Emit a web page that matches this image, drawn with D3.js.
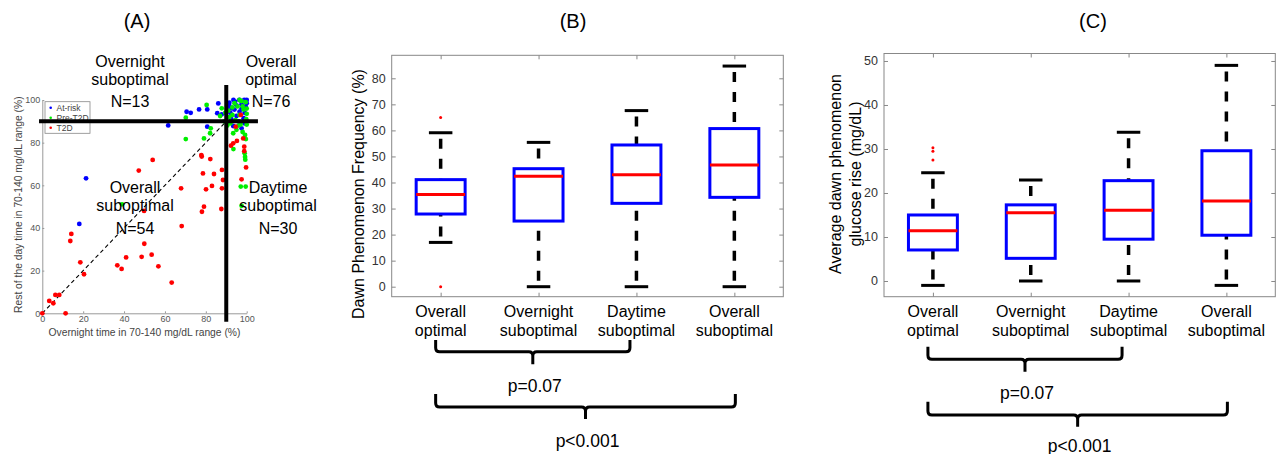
<!DOCTYPE html>
<html>
<head>
<meta charset="utf-8">
<script src="https://cdnjs.cloudflare.com/ajax/libs/d3/7.8.5/d3.min.js"></script>
<style>
  body { margin: 0; background: #fff; }
  svg text { font-family: "Liberation Sans", Arial, Helvetica, sans-serif; }
</style>
</head>
<body>
<svg id="fig" width="1284" height="454"></svg>
<script>
// ---- data ----

// panel A: overnight vs rest-of-day time in range (%)
const atRisk = [
  [18.1, 41.9], [21.4, 63.3], [61.6, 88.1], [70.6, 94.5], [72.6, 94], [76.7, 95.6],
  [80.7, 95.6], [86.1, 98.4], [80.7, 87.5], [85.6, 93.8], [87.8, 93.3], [91.5, 97.2],
  [91.5, 98.7], [94.3, 99.2], [96.4, 100], [98.8, 100], [100, 100], [92.6, 96.1],
  [95, 97.5], [97.5, 98], [99.5, 97], [92, 94], [96.5, 94.5], [99, 94], [93.4, 87.8],
  [97.5, 86.7], [92.5, 91], [95, 92.5], [98.5, 91.5], [90.5, 95.5], [93.5, 100],
  [97.5, 96], [100, 98.5], [94, 95.5], [96, 90], [99, 89]
];
const preT2D = [
  [39, 51.1], [70.2, 91.7], [80.4, 97.7], [70.2, 81.7], [79.1, 82], [82.4, 86.7],
  [82.1, 84.4], [87.8, 96.1], [87, 92.5], [89, 90], [93.4, 84.4], [93.5, 77], [96, 88],
  [99.2, 83.6], [99.6, 81.7], [99, 75], [99.2, 73.3], [99.3, 72], [97.1, 59.4],
  [99.5, 59.4], [97.5, 50.4], [91, 95], [93, 96.5], [95.5, 97], [97.5, 99.5], [99.5, 99],
  [100, 96], [96.5, 93], [98.5, 95.5], [91.5, 92], [94.5, 90.5], [97, 88.5], [99.8, 91],
  [92, 89], [95, 86], [98, 85], [100, 93.5], [89.5, 94], [93, 93], [96.5, 100], [98, 97],
  [90.5, 88], [94, 98.5], [100, 88.5]
];
const t2d = [
  [0, 0], [3.4, 5.8], [5.4, 4.7], [6.4, 8.6], [8.3, 8.6], [11.4, 0], [14.2, 37.2],
  [13.7, 33.9], [18.6, 23.9], [20.4, 18.3], [36.7, 22.5], [38.8, 20.8], [41, 26.2],
  [48.6, 26.5], [53.5, 27.5], [49.9, 32.6], [49.8, 48], [56.8, 22], [63.3, 14.4],
  [68.2, 40.9], [67.9, 58.6], [47.2, 66.9], [54, 71.9], [78.1, 47.6], [79.1, 50],
  [80.1, 58.1], [83, 59.7], [78.6, 65.6], [84, 65.3], [87.9, 67.2], [87.9, 58.6],
  [88.4, 62.5], [87.6, 48.9], [77.8, 74.2], [78, 73.5], [82.2, 72.3], [92.3, 78.6],
  [93.4, 79.7], [95.2, 80.8], [98.3, 82], [98.8, 78.1], [98.8, 76], [99.7, 68.4],
  [97.5, 62.8], [97.1, 93], [94.6, 87.5]
];
const scatterTicks = [0, 20, 40, 60, 80, 100];
const cutoff = 90;
const legendNames = ["At-risk", "Pre-T2D", "T2D"];
const quadrants = [
  { lines: ["Overnight", "suboptimal", "N=13"] },
  { lines: ["Overall", "optimal", "N=76"] },
  { lines: ["Overall", "suboptimal", "N=54"] },
  { lines: ["Daytime", "suboptimal", "N=30"] }
];

// panels B and C: group box plots
const groupLines = [["Overall", "optimal"], ["Overnight", "suboptimal"], ["Daytime", "suboptimal"], ["Overall", "suboptimal"]];

const freqLow = [17, 0, 0, 0];
const freqQ1 = [27.9, 25.2, 32, 34.3];
const freqMedian = [35.4, 42.4, 43, 46.7];
const freqQ3 = [41.1, 45.3, 54.4, 60.7];
const freqHigh = [59.1, 55.4, 67.6, 84.7];
const freqOutliers = [[65, 0], [], [], []];
const freqTicks = [0, 10, 20, 30, 40, 50, 60, 70, 80];

const riseLow = [-1, 0, 0, -1];
const riseQ1 = [7.05, 5.15, 9.5, 10.4];
const riseMedian = [11.4, 15.5, 16.1, 18.2];
const riseQ3 = [15, 17.3, 22.8, 29.6];
const riseHigh = [24.6, 22.95, 33.8, 49];
const riseOutliers = [[30.3, 29.5, 27.5], [], [], []];
const riseTicks = [0, 10, 20, 30, 40, 50];

const pLabels = ["p=0.07", "p<0.001"];
const bracketGroups = [[0, 2], [0, 3]];

// ---- drawing ----
const svg = d3.select("#fig");
svg.append("rect").attr("width", 1284).attr("height", 454).attr("fill", "#fff");

const title = (x, t) => svg.append("text")
  .attr("x", x).attr("y", 28).attr("text-anchor", "middle")
  .attr("font-size", 20).attr("fill", "#000").text(t);

const drawScatter = () => {
  const x = d3.scaleLinear().domain([0, 100]).range([42.3, 246.7]);
  const y = d3.scaleLinear().domain([0, 100]).range([313.3, 100]);
  const g = svg.append("g");

  const xa = g.append("g").attr("transform", `translate(0,${y(0)})`)
    .call(d3.axisBottom(x).tickValues(scatterTicks).tickSize(-2).tickSizeOuter(0).tickPadding(2));
  const ya = g.append("g").attr("transform", `translate(${x(0)},0)`)
    .call(d3.axisLeft(y).tickValues(scatterTicks).tickSize(-2).tickSizeOuter(0).tickPadding(2));
  [xa, ya].forEach(a => {
    a.select(".domain").attr("stroke", "#999");
    a.selectAll(".tick line").attr("stroke", "#999");
    a.selectAll("text").attr("font-size", 9).attr("fill", "#555").attr("font-family", "Liberation Sans, Arial, sans-serif");
  });

  // diagonal reference line
  g.append("line")
    .attr("x1", x(0)).attr("y1", y(0)).attr("x2", x(cutoff)).attr("y2", y(cutoff))
    .attr("stroke", "#000").attr("stroke-width", 1.1).attr("stroke-dasharray", "4,3");

  const series = [
    { data: atRisk, color: "#0000ff" },
    { data: preT2D, color: "#00ee00" },
    { data: t2d, color: "#ff0000" }
  ];
  series.forEach(s => {
    g.append("g").selectAll("circle")
      .data(s.data).enter().append("circle")
      .attr("cx", d => x(d[0])).attr("cy", d => y(d[1]))
      .attr("r", 2.4).attr("fill", s.color);
  });

  // legend
  const lg = g.append("g").attr("transform", "translate(45,101.7)");
  lg.append("rect").attr("width", 45).attr("height", 31.6)
    .attr("fill", "#fff").attr("stroke", "#888").attr("stroke-width", 0.8);
  legendNames.forEach((n, i) => {
    lg.append("circle").attr("cx", 5.7).attr("cy", 6 + i * 10).attr("r", 1.3).attr("fill", series[i].color);
    lg.append("text").attr("x", 11.5).attr("y", 9 + i * 10)
      .attr("font-size", 8.5).attr("fill", "#444").text(n);
  });

  // cutoff lines
  g.append("line").attr("x1", x(cutoff)).attr("x2", x(cutoff)).attr("y1", y(107)).attr("y2", y(-4))
    .attr("stroke", "#000").attr("stroke-width", 4);
  g.append("line").attr("x1", x(-1.6)).attr("x2", x(105.5)).attr("y1", y(cutoff)).attr("y2", y(cutoff))
    .attr("stroke", "#000").attr("stroke-width", 4);

  // quadrant labels
  const spots = [[130, [66.5, 84.5, 107.3]], [271, [66.5, 84.5, 107.3]],
                 [135, [193.3, 210.5, 234]], [278, [192.5, 210.5, 234]]];
  quadrants.forEach((q, i) => {
    q.lines.forEach((t, j) => {
      g.append("text").attr("x", spots[i][0]).attr("y", spots[i][1][j])
        .attr("text-anchor", "middle").attr("font-size", 16).attr("fill", "#000").text(t);
    });
  });

  g.append("text").attr("x", (x(0) + x(100)) / 2).attr("y", 336)
    .attr("text-anchor", "middle").attr("font-size", 10.3).attr("fill", "#444")
    .text("Overnight time in 70-140 mg/dL range (%)");
  g.append("text").attr("transform", `translate(21.5,${(y(0) + y(100)) / 2 - 2}) rotate(-90)`)
    .attr("text-anchor", "middle").attr("font-size", 10.3).attr("fill", "#444")
    .text("Rest of the day time in 70-140 mg/dL range (%)");
};

const drawBoxPanel = (p) => {
  const n = groupLines.length;
  const x = d3.scalePoint().domain(d3.range(n)).range([p.left, p.right]).padding(0.5);
  const y = d3.scaleLinear().domain(p.yDomain).range([p.bottom, p.top]);
  const step = x.step();
  const g = svg.append("g");

  const axes = [
    g.append("g").attr("transform", `translate(${p.left},0)`)
      .call(d3.axisLeft(y).tickValues(p.ticks).tickSize(-4).tickSizeOuter(0).tickPadding(6)),
    g.append("g").attr("transform", `translate(${p.right},0)`)
      .call(d3.axisRight(y).tickValues(p.ticks).tickSize(-4).tickSizeOuter(0).tickFormat("")),
    g.append("g").attr("transform", `translate(0,${p.top})`)
      .call(d3.axisTop(x).tickSize(-4).tickSizeOuter(0).tickFormat("")),
    g.append("g").attr("transform", `translate(0,${p.bottom})`)
      .call(d3.axisBottom(x).tickSize(-4).tickSizeOuter(0).tickFormat(""))
  ];
  axes.forEach(a => {
    a.select(".domain").remove();
    a.selectAll(".tick line").attr("stroke", "#888");
    a.selectAll("text").attr("font-size", 12.5).attr("fill", "#333").attr("font-family", "Liberation Sans, Arial, sans-serif");
  });
  g.append("rect").attr("x", p.left).attr("y", p.top)
    .attr("width", p.right - p.left).attr("height", p.bottom - p.top)
    .attr("fill", "none").attr("stroke", "#888").attr("stroke-width", 1);

  const idx = d3.range(n);
  const dash = { "stroke": "#000", "stroke-width": 3.5, "stroke-dasharray": "10,10", "stroke-dashoffset": 14 };
  const whisker = (from, to) => g.append("g").selectAll("line").data(idx).enter().append("line")
    .attr("x1", i => x(i)).attr("x2", i => x(i))
    .attr("y1", i => y(from[i])).attr("y2", i => y(to[i]))
    .attr("stroke", dash.stroke).attr("stroke-width", dash["stroke-width"])
    .attr("stroke-dasharray", dash["stroke-dasharray"]).attr("stroke-dashoffset", dash["stroke-dashoffset"]);
  whisker(p.high, p.q3);
  whisker(p.low, p.q1);

  const cap = (vals) => g.append("g").selectAll("line").data(idx).enter().append("line")
    .attr("x1", i => x(i) - 0.12 * step).attr("x2", i => x(i) + 0.12 * step)
    .attr("y1", i => y(vals[i])).attr("y2", i => y(vals[i]))
    .attr("stroke", "#000").attr("stroke-width", 3);
  cap(p.high);
  cap(p.low);

  g.append("g").selectAll("rect").data(idx).enter().append("rect")
    .attr("x", i => x(i) - 0.25 * step).attr("width", 0.5 * step)
    .attr("y", i => y(p.q3[i])).attr("height", i => y(p.q1[i]) - y(p.q3[i]))
    .attr("fill", "none").attr("stroke", "#0000ff").attr("stroke-width", 3);

  g.append("g").selectAll("line").data(idx).enter().append("line")
    .attr("x1", i => x(i) - 0.25 * step).attr("x2", i => x(i) + 0.25 * step)
    .attr("y1", i => y(p.median[i])).attr("y2", i => y(p.median[i]))
    .attr("stroke", "#ff0000").attr("stroke-width", 3);

  p.outliers.forEach((vals, i) => {
    g.append("g").selectAll("circle").data(vals).enter().append("circle")
      .attr("cx", x(i)).attr("cy", d => y(d)).attr("r", 1.5).attr("fill", "#ff0000");
  });

  // category labels
  groupLines.forEach((lines, i) => {
    lines.forEach((t, j) => {
      g.append("text").attr("x", x(i)).attr("y", 317 + j * 18.5)
        .attr("text-anchor", "middle").attr("font-size", 16).attr("fill", "#000").text(t);
    });
  });

  // y label
  const yl = g.append("text")
    .attr("transform", `translate(${p.yLabelX},${p.yLabelY}) rotate(-90)`)
    .attr("text-anchor", "middle").attr("font-size", 16).attr("fill", "#000");
  p.yLabel.forEach((t, j) => {
    yl.append("tspan").attr("x", 0).attr("dy", j === 0 ? 0 : 20).text(t);
  });

  // significance brackets
  bracketGroups.forEach((bg, k) => {
    const lv = p.brackets[k];
    const x1 = x(bg[0]) - 5;
    const x2 = x(bg[1]) + (bg[1] === n - 1 ? 1 : -6.5);
    const cx = (x1 + x2) / 2;
    const r = 4;
    const path = d3.path();
    path.moveTo(x1, lv.top);
    path.lineTo(x1, lv.mid - r);
    path.quadraticCurveTo(x1, lv.mid, x1 + r, lv.mid);
    path.lineTo(cx - r, lv.mid);
    path.quadraticCurveTo(cx, lv.mid, cx, lv.mid + r);
    path.lineTo(cx, lv.bot);
    path.moveTo(cx, lv.mid + r);
    path.quadraticCurveTo(cx, lv.mid, cx + r, lv.mid);
    path.lineTo(x2 - r, lv.mid);
    path.quadraticCurveTo(x2, lv.mid, x2, lv.mid - r);
    path.lineTo(x2, lv.top);
    g.append("path").attr("d", path.toString())
      .attr("fill", "none").attr("stroke", "#000").attr("stroke-width", 3);
    g.append("text").attr("x", cx + 2).attr("y", lv.text)
      .attr("text-anchor", "middle").attr("font-size", 17.5).attr("fill", "#000").text(pLabels[k]);
  });
};

title(137, "(A)");
title(573, "(B)");
title(1093, "(C)");

drawScatter();

drawBoxPanel({
  left: 391.7, right: 783.3, top: 55.3, bottom: 296.7,
  yDomain: [-3.84, 88.83], ticks: freqTicks,
  low: freqLow, q1: freqQ1, median: freqMedian, q3: freqQ3, high: freqHigh, outliers: freqOutliers,
  yLabel: ["Dawn Phenomenon Frequency (%)"], yLabelX: 363.5, yLabelY: 194,
  brackets: [
    { top: 340, mid: 351.7, bot: 364.3, text: 391.5 },
    { top: 394, mid: 407, bot: 419, text: 446.5 }
  ]
});

drawBoxPanel({
  left: 884, right: 1275.3, top: 53.5, bottom: 296.7,
  yDomain: [-3.57, 51.7], ticks: riseTicks,
  low: riseLow, q1: riseQ1, median: riseMedian, q3: riseQ3, high: riseHigh, outliers: riseOutliers,
  yLabel: ["Average dawn phenomenon", "glucose rise (mg/dL)"], yLabelX: 840.5, yLabelY: 174,
  brackets: [
    { top: 346.7, mid: 359.3, bot: 371.7, text: 399 },
    { top: 401.7, mid: 415, bot: 426.7, text: 451.5 }
  ]
});
</script>
</body>
</html>
